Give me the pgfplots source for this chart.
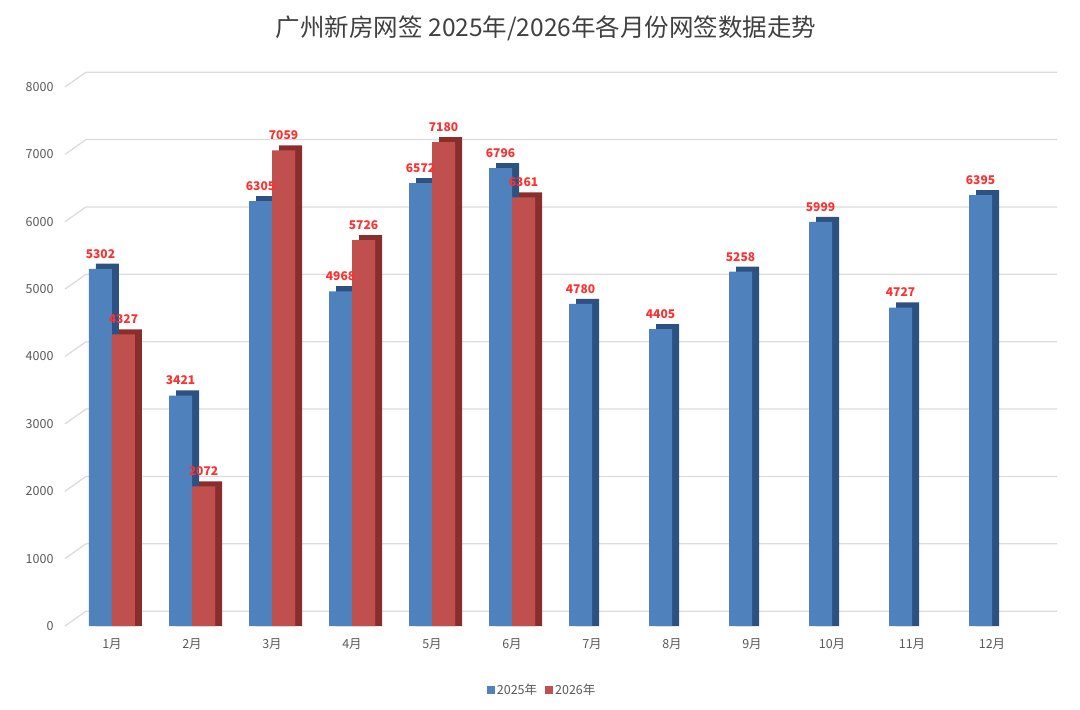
\documentclass[border=0pt]{standalone}
\usepackage{fontspec}
\setmainfont{Noto Sans CJK SC}
\usepackage{pgfplots}
\pgfplotsset{compat=1.18}
\usepackage{pgfplotstable}
\definecolor{cblue}{HTML}{4F81BD}
\definecolor{cblued}{HTML}{2D5282}
\definecolor{cred}{HTML}{C0504D}
\definecolor{credd}{HTML}{8A2E2B}
\definecolor{gridc}{HTML}{DCDCDC}
\definecolor{txtc}{HTML}{595959}
\definecolor{lblc}{HTML}{FF3030}
\pgfplotstableread{
x v
0 5302
1 3421
2 6305
3 4968
4 6572
5 6796
6 4780
7 4405
8 5258
9 5999
10 4727
11 6395
}\tblA
\pgfplotstableread{
x v
0 4327
1 2072
2 7059
3 5726
4 7180
5 6361
}\tblB
\begin{document}
\begin{tikzpicture}
\begin{axis}[
  scale only axis,
  width=992bp, height=539bp,
  xmin=-0.5875, xmax=11.8125,
  ymin=0, ymax=8000,
  clip=false,
  axis line style={draw=none},
  tick style={draw=none},
  xtick={0,...,11},
  xticklabels={1月,2月,3月,4月,5月,6月,7月,8月,9月,10月,11月,12月},
  ytick={0,1000,...,8000},
  x tick label style={font=\fontsize{12.5bp}{14bp}\selectfont, text=txtc, yshift=-5bp},
  y tick label style={font=\fontsize{12.5bp}{14bp}\selectfont, text=txtc, xshift=-8bp},
  /pgf/number format/assume math mode=true,
  /pgf/number format/1000 sep={},
  ybar, bar width=23bp,
  point meta=explicit symbolic,
  legend style={at={(0.481,-0.118)}, anchor=center, draw=none, legend columns=2,
    font=\fontsize{12.5bp}{14bp}\selectfont, text=txtc,
    /tikz/every even column/.append style={column sep=6bp}},
  legend image code/.code={\fill[#1] (0bp,-4bp) rectangle (8bp,4bp);},
]
% back-wall gridlines
\pgfplotsinvokeforeach{0,1000,2000,3000,4000,5000,6000,7000,8000}{
  \draw[gridc, line width=1.3bp] (axis cs:-0.5875,#1) -- (axis cs:-0.325,#1+220) -- (axis cs:11.8125,#1+220);
}
% depth faces (3D effect)
\addplot[fill=cblued, draw=none, bar shift=-4.5bp, forget plot] table[x=x, y expr=\thisrow{v}+75, meta=v] {\tblA};
\addplot[fill=cblue, draw=none, bar shift=-11.5bp,
  nodes near coords, nodes near coords style={font=\bfseries\fontsize{12bp}{14bp}\selectfont, text=lblc, anchor=south, yshift=7bp}]
  table[x=x, y=v, meta=v] {\tblA};
\addplot[fill=credd, draw=none, bar shift=18.5bp, forget plot] table[x=x, y expr=\thisrow{v}+75, meta=v] {\tblB};
\addplot[fill=cred, draw=none, bar shift=11.5bp,
  nodes near coords, nodes near coords style={font=\bfseries\fontsize{12bp}{14bp}\selectfont, text=lblc, anchor=south, yshift=7bp}]
  table[x=x, y=v, meta=v] {\tblB};
\legend{2025年,2026年}
\node[font=\fontsize{24.5bp}{28bp}\selectfont, text=black!75] at (rel axis cs:0.485,1.0) [yshift=59bp] {广州新房网签 2025年/2026年各月份网签数据走势};
\end{axis}
\useasboundingbox (-65bp,-84bp) rectangle (1015bp,626bp);
\end{tikzpicture}
\end{document}
